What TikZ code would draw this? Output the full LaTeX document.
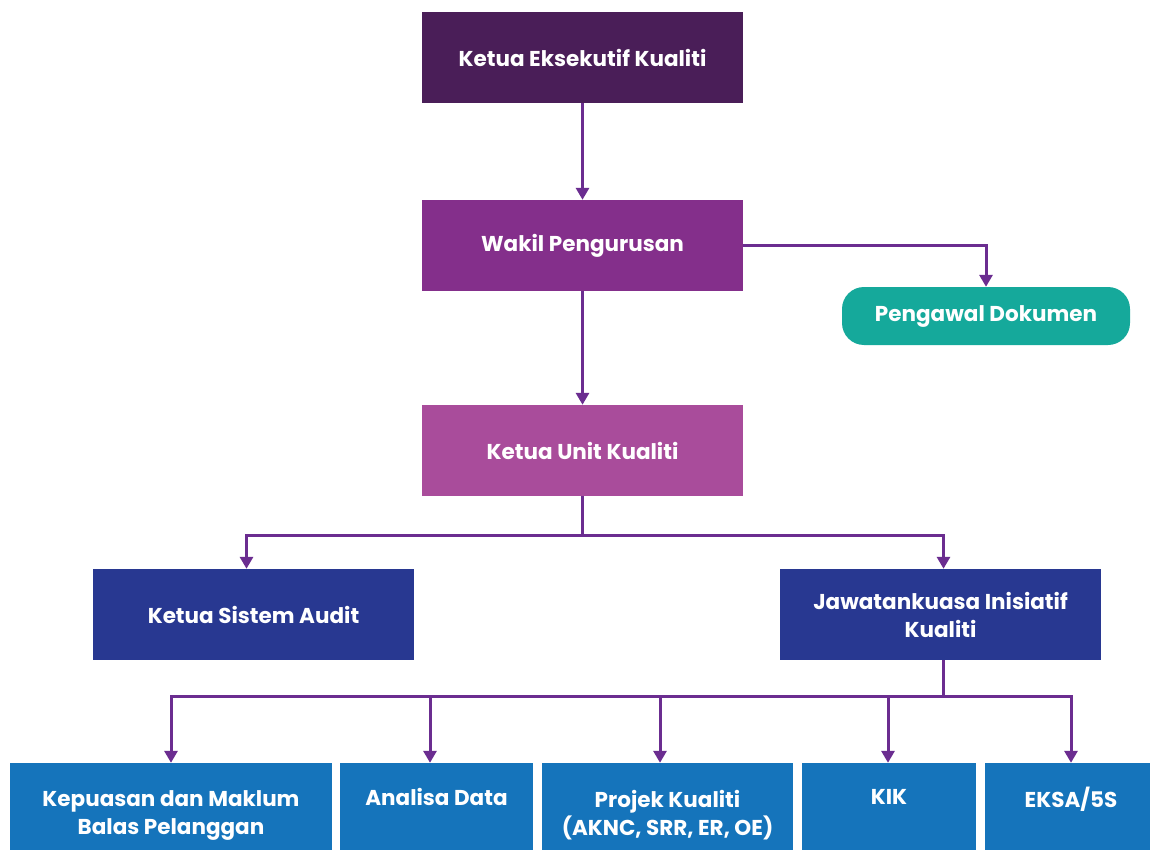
\documentclass[tikz,border=0pt]{standalone}
\usepackage{fontspec}
\setmainfont{Poppins}
\usetikzlibrary{arrows.meta}
\definecolor{cdark}{HTML}{4A1E58}
\definecolor{cwakil}{HTML}{842F8B}
\definecolor{cunit}{HTML}{A94C9B}
\definecolor{cnavy}{HTML}{283891}
\definecolor{cblue}{HTML}{1574BB}
\definecolor{cteal}{HTML}{15A99B}
\definecolor{cline}{HTML}{6B2D90}
\begin{document}
\begin{tikzpicture}[x=1pt,y=-1pt,
  box/.style={rectangle, inner sep=0pt, text=white, align=center,
    font=\bfseries\fontsize{21.5}{28}\selectfont},
  bigbox/.style={box, minimum width=321pt, minimum height=91pt},
  botbox/.style={box, fill=cblue, minimum height=104pt},
  conn/.style={draw=cline, line width=3pt, -{Triangle[width=13pt,length=12pt]}},
  bus/.style={draw=cline, line width=3pt}]
\clip (0,0) rectangle (1150,850);
\fill[white] (0,0) rectangle (1150,850);
\node[bigbox, fill=cdark] (kek) at (582.5,57.5) {Ketua Eksekutif Kualiti};
\node[bigbox, fill=cwakil] (wak) at (582.5,245.5) {Wakil Pengurusan};
\node[box, fill=cteal, minimum width=288pt, minimum height=58pt, rounded corners=22pt] (pen) at (986,316) {Pengawal Dokumen};
\node[bigbox, fill=cunit] (kuk) at (582.5,450.5) {Ketua Unit Kualiti};
\node[bigbox, fill=cnavy] (ksa) at (253.5,614.5) {Ketua Sistem Audit};
\node[bigbox, fill=cnavy] (jik) at (940.5,614.5) {Jawatankuasa Inisiatif\\Kualiti};
\node[botbox, minimum width=322pt] (kep) at (171,815) {Kepuasan dan Maklum\\Balas Pelanggan};
\node[botbox, minimum width=193pt] (ana) at (436.5,815) {Analisa Data\\\strut};
\node[botbox, minimum width=251pt] (pro) at (667.5,815) {Projek Kualiti\\(AKNC, SRR, ER, OE)};
\node[botbox, minimum width=174pt] (kik) at (889,815) {KIK\\\strut};
\node[botbox, minimum width=172pt] (eks) at (1071,815) {EKSA/5S\\\strut};
% connectors
\draw[conn] (kek.south) -- (wak.north);
\draw[conn] (wak.east) -| (pen.north);
\draw[conn] (kuk.north |- wak.south) -- (kuk.north);
\coordinate (b1) at (582.5,535);
\draw[bus] (kuk.south) -- (b1);
\draw[conn] (b1) -| ([xshift=-7pt]ksa.north);
\draw[conn] (b1) -| ([xshift=3pt]jik.north);
\coordinate (b2) at (943.5,696);
\draw[bus] ([xshift=3pt]jik.south) -- (b2);
\draw[conn] (b2) -| (kep.north);
\draw[conn] (b2) -| ([xshift=-6.5pt]ana.north);
\draw[conn] (b2) -| ([xshift=-7.5pt]pro.north);
\draw[conn] (b2) -| ([xshift=-1pt]kik.north);
\draw[conn] (b2) -| (eks.north);
\end{tikzpicture}
\end{document}
